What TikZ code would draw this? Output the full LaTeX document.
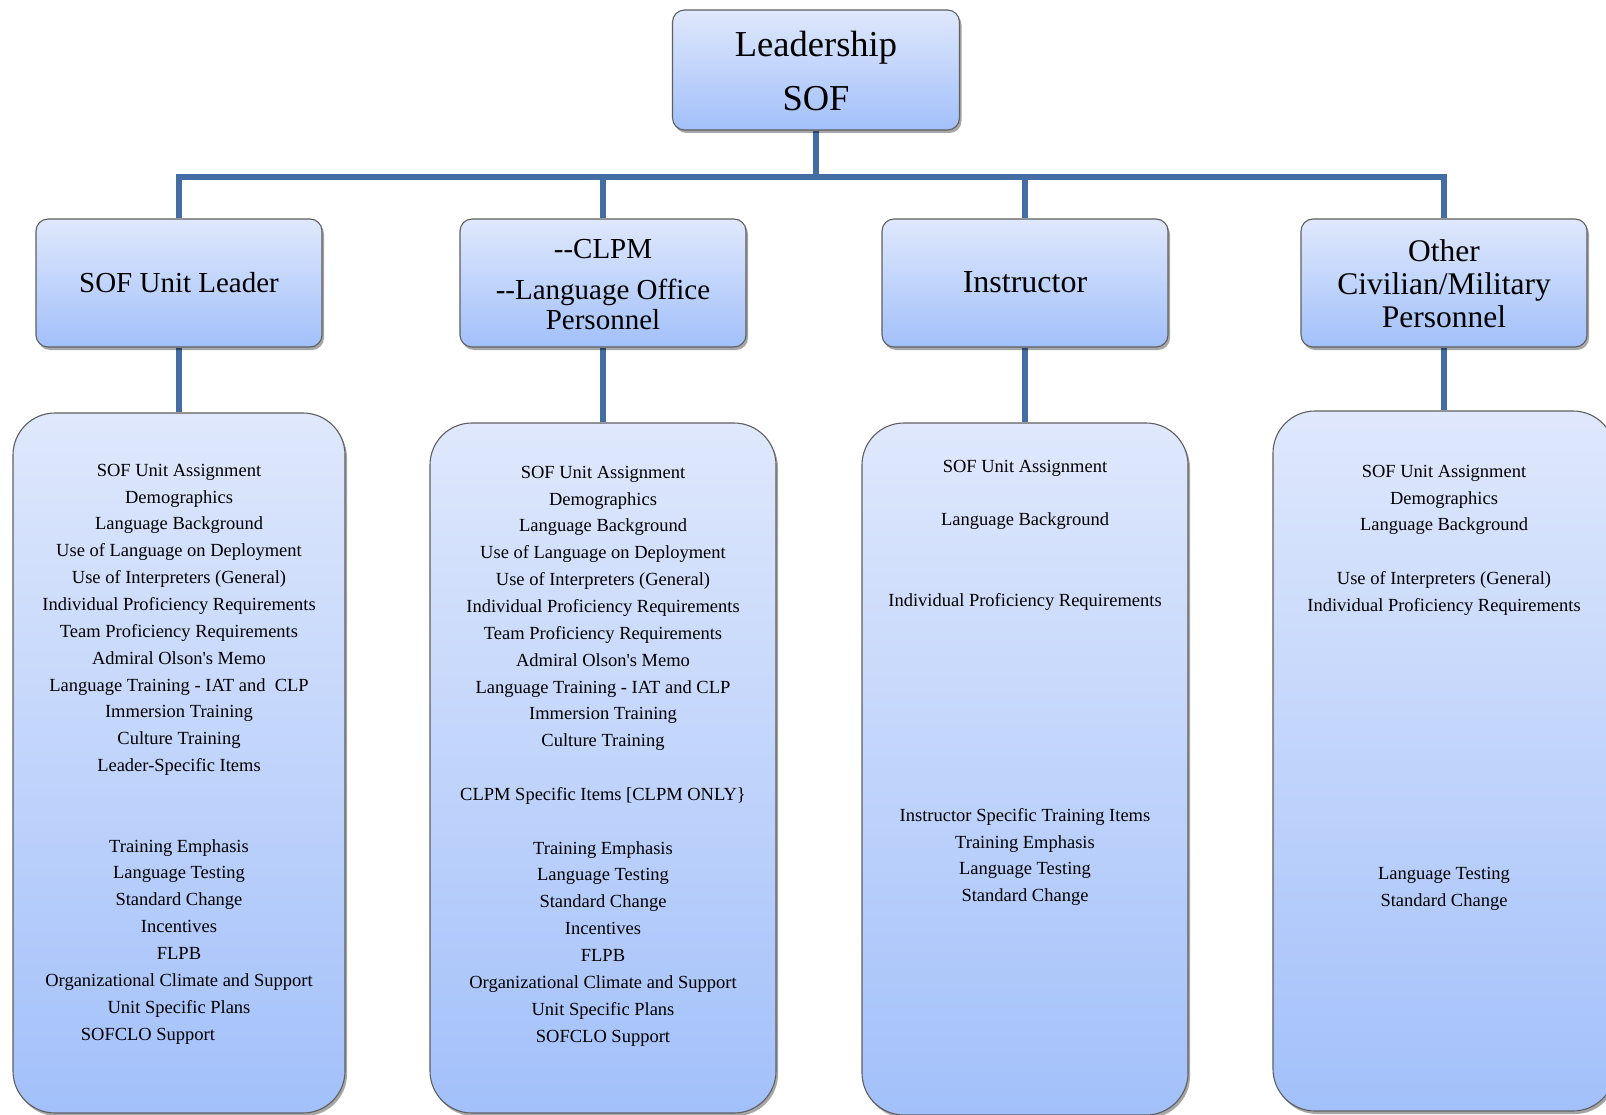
\documentclass[tikz,border=0pt]{standalone}
\usepackage{fontspec}
\setmainfont{Liberation Serif}
\usetikzlibrary{shadows,backgrounds}
\definecolor{conn}{HTML}{446DA3}
\definecolor{gtop}{HTML}{DFE8FC}
\definecolor{gbot}{HTML}{A2C0FA}
\definecolor{bord}{HTML}{5F5F5F}
\tikzset{
  card/.style={rectangle, draw=bord, line width=1.1pt, top color=gtop, bottom color=gbot,
    rounded corners=12pt, inner sep=0pt,
    drop shadow={shadow xshift=2pt, shadow yshift=-3pt, opacity=0.35, fill=black}},
  panel/.style={card, rounded corners=42pt},
  conline/.style={draw=conn, line width=6pt, line join=miter},
  itemtxt/.style={font=\fontsize{18.5}{26.85}\selectfont, align=center, inner sep=0pt, anchor=north},
  rowtxt/.style={align=center, inner sep=0pt},
}
\begin{document}
\begin{tikzpicture}[x=1pt,y=-1pt]
\useasboundingbox (0,0) rectangle (1606,1115);

% top
\node[card, minimum width=287pt, minimum height=120pt] (top) at (816,70) {};
\node[rowtxt, anchor=north, font=\fontsize{36.5}{54}\selectfont] (toptext) at (816,16)
  {\rule{0pt}{40pt}Leadership\\SOF};

% second row
\node[card, minimum width=286pt, minimum height=128pt] (r1) at (179,283) {};
\node[card, minimum width=286pt, minimum height=128pt] (r2) at (603,283) {};
\node[card, minimum width=286pt, minimum height=128pt] (r3) at (1025,283) {};
\node[card, minimum width=286pt, minimum height=128pt] (r4) at (1444,283) {};

\node[rowtxt, anchor=base, font=\fontsize{29}{30}\selectfont] (r1t) at (179,293) {SOF Unit Leader};
\node[rowtxt, anchor=north, font=\fontsize{29}{30}\selectfont] (r2t) at (603,227)
  {\rule{0pt}{31pt}-{}-CLPM\\[11pt]-{}-Language Office\\Personnel};
\node[rowtxt, anchor=base, font=\fontsize{32}{33}\selectfont] (r3t) at (1025,293) {Instructor};
\node[rowtxt, anchor=north, font=\fontsize{31.5}{33}\selectfont] (r4t) at (1444,228)
  {\rule{0pt}{33pt}Other\\Civilian/Military\\Personnel};

% bottom panels
\node[panel, minimum width=332pt, minimum height=700pt] (p1) at (179,763) {};
\node[panel, minimum width=346pt, minimum height=690pt] (p2) at (603,768) {};
\node[panel, minimum width=326pt, minimum height=692pt] (p3) at (1025,769) {};
\node[panel, minimum width=342pt, minimum height=700pt] (p4) at (1444,761) {};

\node[itemtxt] (p1t) at (179,456) {\rule{0pt}{20pt}SOF Unit Assignment\\
Demographics\\
Language Background\\
Use of Language on Deployment\\
Use of Interpreters (General)\\
Individual Proficiency Requirements\\
Team Proficiency Requirements\\
Admiral Olson\textquotesingle s Memo\\
Language Training - IAT and\ \ CLP\\
Immersion Training\\
Culture Training\\
Leader-Specific Items\\[53.7pt]
Training Emphasis\\
Language Testing\\
Standard Change\\
Incentives\\
FLPB\\
Organizational Climate and Support\\
Unit Specific Plans\\
SOFCLO Support\hspace*{62pt}};

\node[itemtxt] (p2t) at (603,458) {\rule{0pt}{20pt}SOF Unit Assignment\\
Demographics\\
Language Background\\
Use of Language on Deployment\\
Use of Interpreters (General)\\
Individual Proficiency Requirements\\
Team Proficiency Requirements\\
Admiral Olson\textquotesingle s Memo\\
Language Training - IAT and CLP\\
Immersion Training\\
Culture Training\\[26.85pt]
CLPM Specific Items [CLPM ONLY\}\\[26.85pt]
Training Emphasis\\
Language Testing\\
Standard Change\\
Incentives\\
FLPB\\
Organizational Climate and Support\\
Unit Specific Plans\\
SOFCLO Support};

\node[itemtxt] (p3t) at (1025,452) {\rule{0pt}{20pt}SOF Unit Assignment\\[26.85pt]
Language Background\\[53.7pt]
Individual Proficiency Requirements\\[187.95pt]
Instructor Specific Training Items\\
Training Emphasis\\
Language Testing\\
Standard Change};

\node[itemtxt] (p4t) at (1444,457) {\rule{0pt}{20pt}SOF Unit Assignment\\
Demographics\\
Language Background\\[26.85pt]
Use of Interpreters (General)\\
Individual Proficiency Requirements\\[241.65pt]
Language Testing\\
Standard Change};

% connectors
\begin{scope}[on background layer]
  \fill[white] (0,0) rectangle (1606,1115);
  \coordinate (bar) at (0,177);
  \draw[conline] (top.south) -- (top.south |- bar);
  \draw[conline] (r1.north) -- (r1.north |- bar) -- (r4.north |- bar) -- (r4.north);
  \draw[conline] (r2.north |- bar) -- (r2.north);
  \draw[conline] (r3.north |- bar) -- (r3.north);
  \draw[conline] (r1.south) -- (p1.north);
  \draw[conline] (r2.south) -- (p2.north);
  \draw[conline] (r3.south) -- (p3.north);
  \draw[conline] (r4.south) -- (p4.north);
\end{scope}
\end{tikzpicture}
\end{document}
